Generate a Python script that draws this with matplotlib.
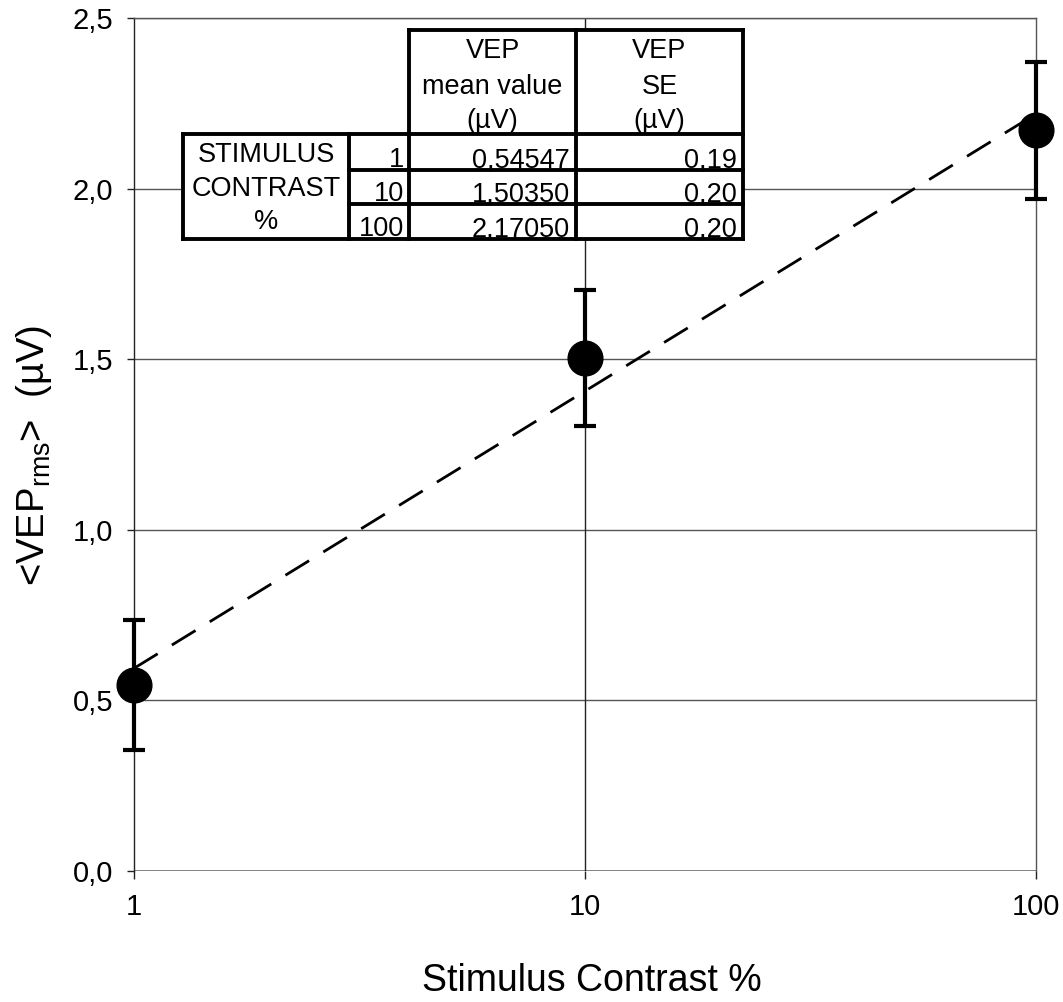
import numpy as np
import matplotlib
matplotlib.use("Agg")
import matplotlib.pyplot as plt
from matplotlib import font_manager
from matplotlib.ticker import FixedLocator, FixedFormatter, NullLocator

plt.rcParams['font.family'] = ['Liberation Sans', 'DejaVu Sans']
plt.rcParams['mathtext.fontset'] = 'custom'
plt.rcParams['mathtext.rm'] = 'Liberation Sans'

# ---- data ----
contrast = [1, 10, 100]
vep_mean = [0.54547, 1.50350, 2.17050]
vep_se = [0.19, 0.20, 0.20]
mean_labels = ["0,54547", "1,50350", "2,17050"]
se_labels = ["0,19", "0,20", "0,20"]
contrast_labels = ["1", "10", "100"]
y_ticks = [0.0, 0.5, 1.0, 1.5, 2.0, 2.5]
y_tick_labels = ["0,0", "0,5", "1,0", "1,5", "2,0", "2,5"]
x_tick_labels = ["1", "10", "100"]

names = {f.name for f in font_manager.fontManager.ttflist}
if 'Liberation Sans Narrow' in names:
    tick_family, tick_size = ['Liberation Sans Narrow', 'DejaVu Sans'], 24
else:
    tick_family, tick_size = ['Liberation Sans', 'DejaVu Sans'], 21

W, H = 1063, 1002
fig = plt.figure(figsize=(W / 100, H / 100), dpi=100)
ax = fig.add_axes([134 / W, 1 - 871 / H, (1036 - 134) / W, (871 - 18) / H])

ax.set_xscale('log')
ax.set_xlim(1, 100)
ax.set_ylim(0, 2.5)

grid_c = '#555555'
for yv in y_ticks[1:]:
    ax.axhline(yv, color=grid_c, lw=1.0, zorder=1)
ax.axhline(0, color='#777777', lw=2.0, zorder=1)
ax.axvline(10, color='#222222', lw=1.0, zorder=1)

for side in ['top', 'right']:
    ax.spines[side].set_color(grid_c)
    ax.spines[side].set_linewidth(1.0)
ax.spines['left'].set_color('#222222')
ax.spines['left'].set_linewidth(1.0)
ax.spines['bottom'].set_visible(False)

# fit line (least squares in log10 contrast)
lx = np.log10(contrast)
b, a = np.polyfit(lx, vep_mean, 1)
xf = np.array([contrast[0], contrast[-1]])
ax.plot(xf, a + b * np.log10(xf), color='black', lw=2.0,
        dashes=(10, 6), zorder=3, clip_on=False)

ax.errorbar(contrast, vep_mean, yerr=vep_se, fmt='o', color='black',
            ms=25, elinewidth=3, capsize=8, capthick=3, zorder=4,
            clip_on=False)

ax.yaxis.set_major_locator(FixedLocator(y_ticks))
ax.yaxis.set_major_formatter(FixedFormatter(y_tick_labels))
ax.xaxis.set_major_locator(FixedLocator(contrast))
ax.xaxis.set_major_formatter(FixedFormatter(x_tick_labels))
ax.xaxis.set_minor_locator(NullLocator())
ax.tick_params(axis='y', direction='out', length=5, width=1,
               pad=10, color='#222222')
ax.tick_params(axis='x', direction='out', length=6, width=1,
               pad=10, color='#222222')
for lbl in ax.get_xticklabels() + ax.get_yticklabels():
    lbl.set_fontfamily(tick_family)
    lbl.set_fontsize(tick_size)

fig.text(592 / W, 1 - 981 / H, "Stimulus Contrast %", fontsize=27,
         ha='center', va='center')
fig.text(34 / W, 1 - 455 / H, "<VEP$_{\\mathregular{rms}}$>  (µV)",
         fontsize=27.5, rotation=90, ha='center', va='center')

# ---- table overlay (pixel coordinates) ----
ov = fig.add_axes([0, 0, 1, 1], facecolor='none')
ov.set_xlim(0, W)
ov.set_ylim(H, 0)
ov.axis('off')

x0, x1, x2, x3, x4 = 183, 349, 409, 576, 743
yh, y0, y1, y2, y3 = 30, 134, 170, 204, 239
lw = 2.8
ov.add_patch(plt.Rectangle((x0, y0), x4 - x0, y3 - y0, facecolor='white',
                           edgecolor='none', zorder=5))
ov.add_patch(plt.Rectangle((x2, yh), x4 - x2, y0 - yh, facecolor='white',
                           edgecolor='none', zorder=5))
segs = [
    ((x0, x4), (y0, y0)), ((x2, x4), (yh, yh)),
    ((x1, x4), (y1, y1)), ((x1, x4), (y2, y2)), ((x0, x4), (y3, y3)),
    ((x0, x0), (y0, y3)), ((x1, x1), (y0, y3)),
    ((x2, x2), (yh, y3)), ((x3, x3), (yh, y3)), ((x4, x4), (yh, y3)),
]
for xs, ys in segs:
    ov.plot(xs, ys, color='black', lw=lw, solid_capstyle='projecting', zorder=6)

fs = 19.5
hdr_mean = ["VEP", "mean value", "(µV)"]
hdr_se = ["VEP", "SE", "(µV)"]
hy = [51, 87, 121]
for t, yy in zip(hdr_mean, hy):
    ov.text((x2 + x3) / 2, yy, t, fontsize=fs, ha='center', va='center', zorder=7)
for t, yy in zip(hdr_se, hy):
    ov.text((x3 + x4) / 2, yy, t, fontsize=fs, ha='center', va='center', zorder=7)

left_lbl = ["STIMULUS", "CONTRAST", "%"]
left_y = [155, 189, 222]
for t, yy in zip(left_lbl, left_y):
    ov.text((x0 + x1) / 2, yy, t, fontsize=fs, ha='center', va='center', zorder=7)

row_bot = [y1, y2, y3]
for i in range(3):
    yb = row_bot[i] - 3
    ov.text(x2 - 5, yb, contrast_labels[i], fontsize=fs, ha='right',
            va='baseline', zorder=7)
    ov.text(x3 - 6, yb, mean_labels[i], fontsize=fs, ha='right',
            va='baseline', zorder=7)
    ov.text(x4 - 6, yb, se_labels[i], fontsize=fs, ha='right',
            va='baseline', zorder=7)

fig.savefig("out.png", dpi=100, facecolor='white')
